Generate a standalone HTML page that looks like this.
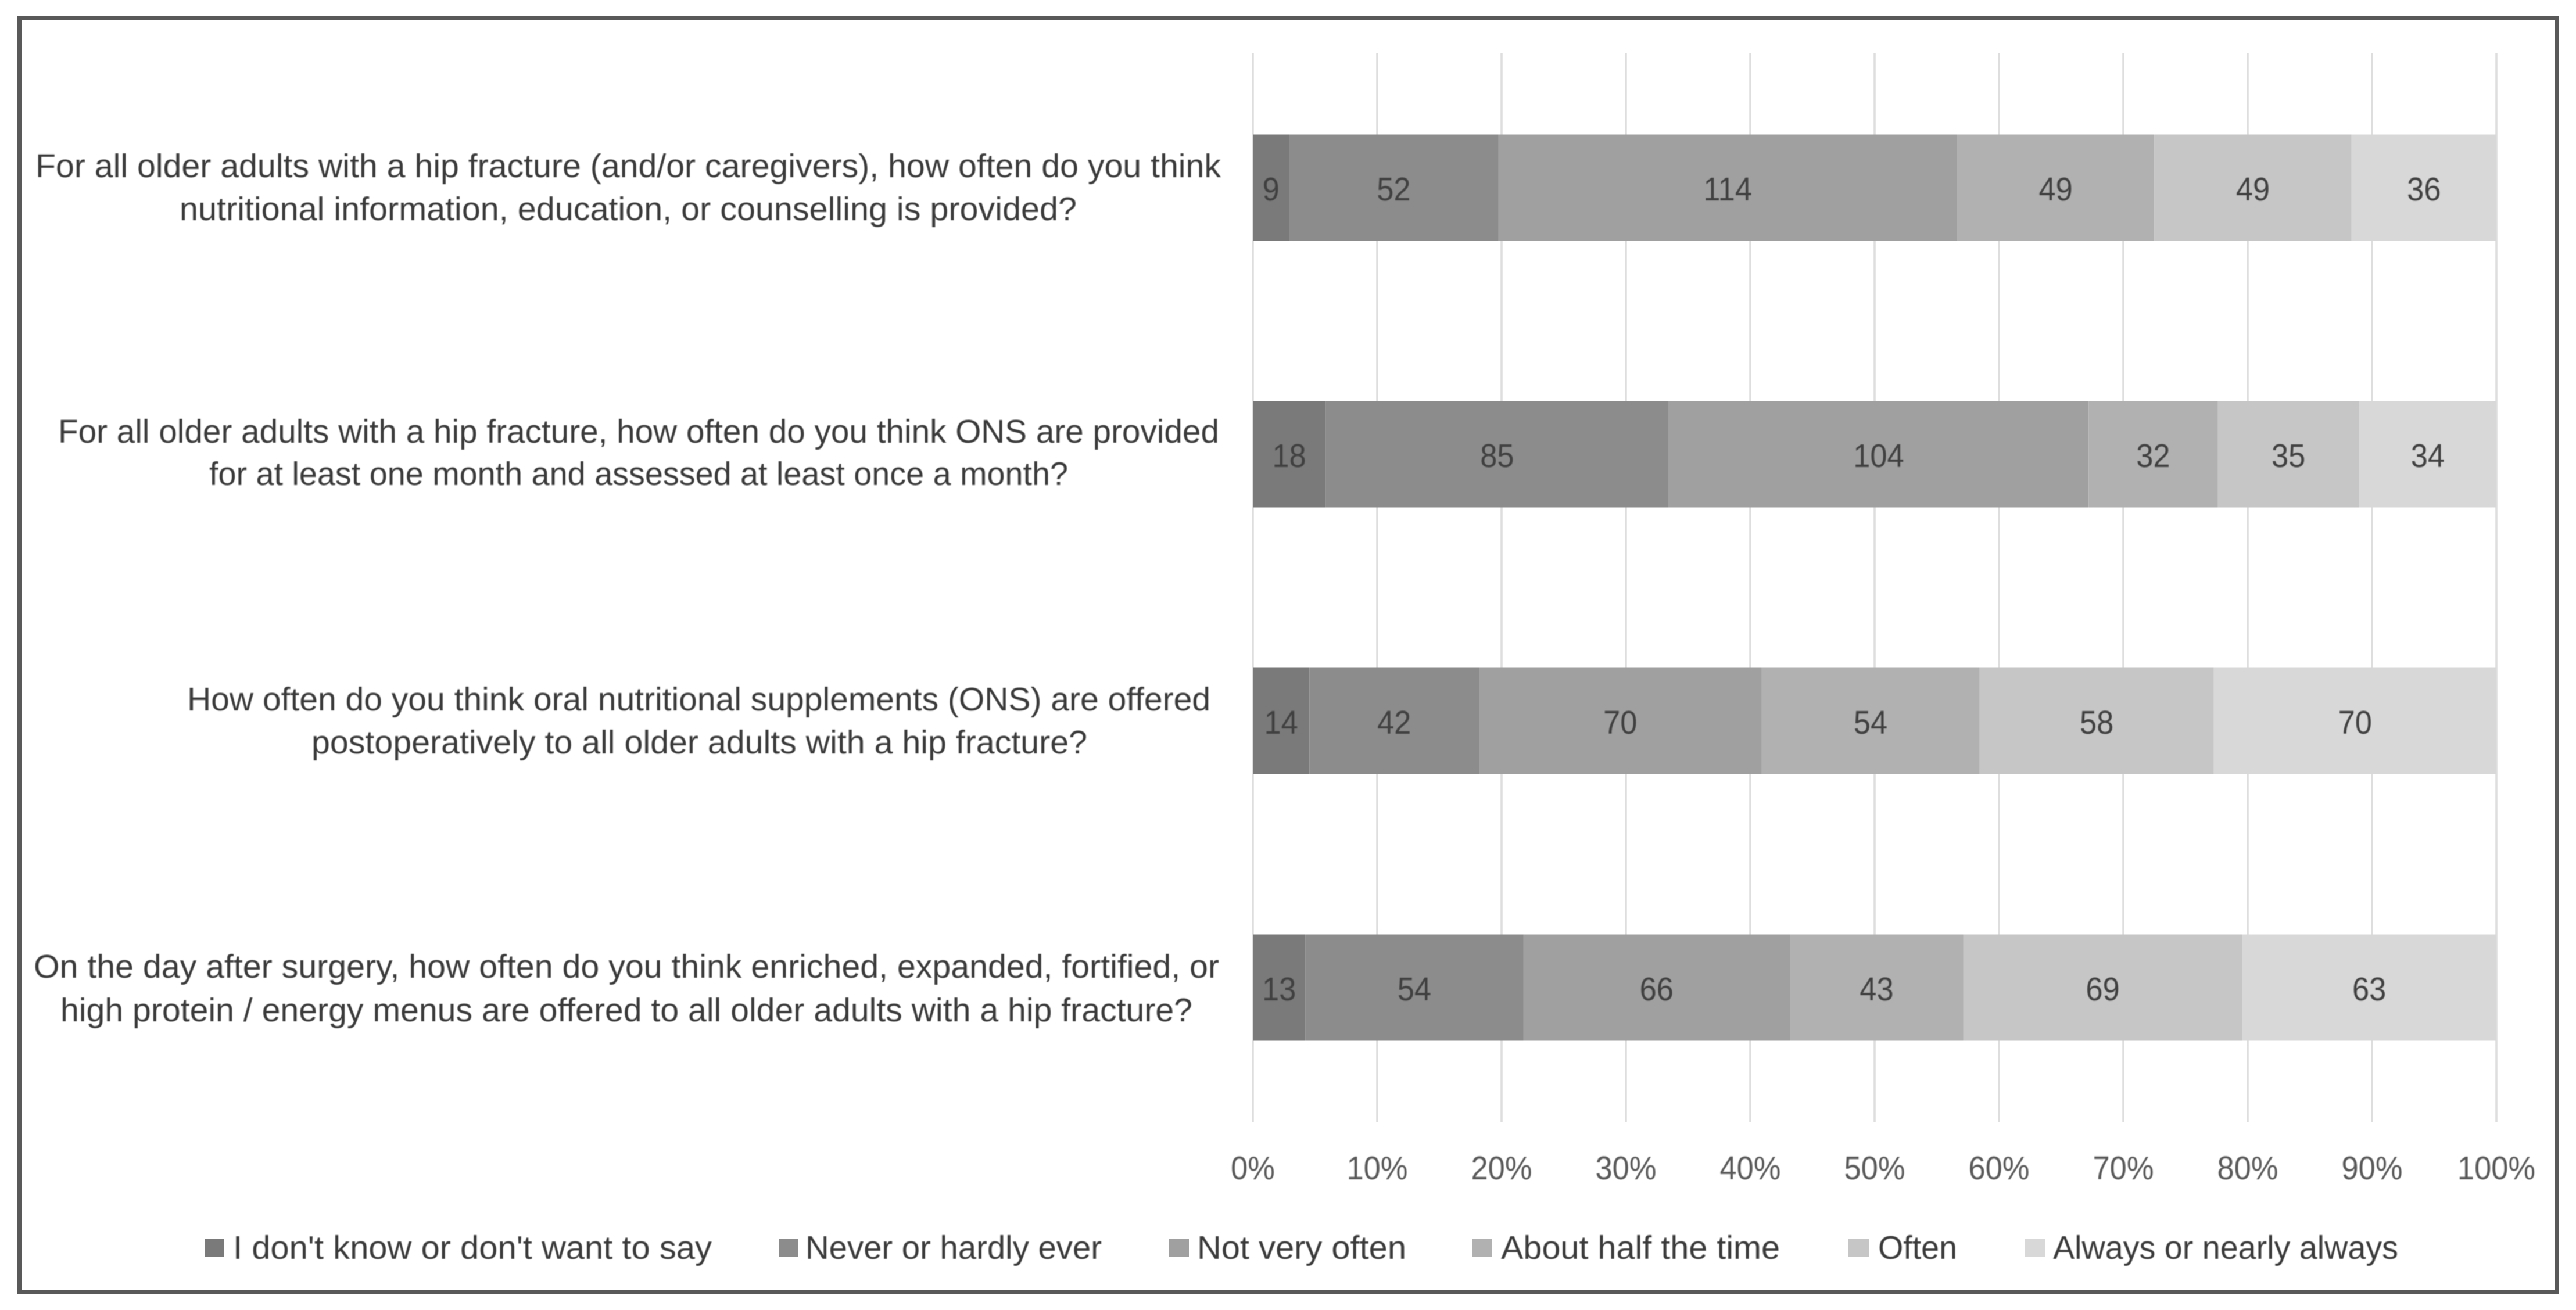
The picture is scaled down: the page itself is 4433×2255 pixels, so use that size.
<!DOCTYPE html>
<html lang="en">
<head>
<meta charset="utf-8">
<title>Hip fracture nutrition survey responses</title>
<style>
  html, body { margin: 0; padding: 0; background: #fff; }
  body { width: 4433px; height: 2255px; overflow: hidden; }
  svg { display: block; font-family: "Liberation Sans", sans-serif; }
  svg text { filter: blur(0.8px); }
</style>
</head>
<body>
<svg id="chart" xmlns="http://www.w3.org/2000/svg" width="4433" height="2255" viewBox="0 0 4433 2255">
  <rect x="0" y="0" width="4433" height="2255" fill="#ffffff"/>
  <g fill="#595959">
    <rect x="30" y="28" width="4374" height="7"/>
    <rect x="30" y="2220" width="4374" height="7"/>
    <rect x="30" y="28" width="7" height="2199"/>
    <rect x="4397" y="28" width="7" height="2199"/>
  </g>
  <g id="grid"></g>
  <g id="bars"></g>
  <g id="categories"></g>
  <g id="ticks"></g>
  <g id="legend"></g>
</svg>
<script>
const categoryLines = [
  ["For all older adults with a hip fracture (and/or caregivers), how often do you think", "nutritional information, education, or counselling is provided?"],
  ["For all older adults with a hip fracture, how often do you think ONS are provided", "for at least one month and assessed at least once a month?"],
  ["How often do you think oral nutritional supplements (ONS) are offered", "postoperatively to all older adults with a hip fracture?"],
  ["On the day after surgery, how often do you think enriched, expanded, fortified, or", "high protein / energy menus are offered to all older adults with a hip fracture?"]
];
const seriesNames = ["I don't know or don't want to say", "Never or hardly ever", "Not very often", "About half the time", "Often", "Always or nearly always"];
const dontKnow = [9, 18, 14, 13];
const never = [52, 85, 42, 54];
const notVeryOften = [114, 104, 70, 66];
const aboutHalf = [49, 32, 54, 43];
const often = [49, 35, 58, 69];
const always = [36, 34, 70, 63];
const tickValues = [0, 10, 20, 30, 40, 50, 60, 70, 80, 90, 100];

const seriesValues = [dontKnow, never, notVeryOften, aboutHalf, often, always];
const seriesColors = ["#7a7a7a", "#8c8c8c", "#a0a0a0", "#b1b1b1", "#c6c6c6", "#d8d8d8"];

const NS = "http://www.w3.org/2000/svg";
const plotLeft = 2156, plotRight = 4296, plotTop = 92, plotBottom = 1932;
const rowStart = 323, rowStep = 459, barHeight = 183;
const fontSize = 57;

/* Pixel layout of wrapped text lines, kept apart from the data. */
const categoryLineBoxes = [
  [{ x: 61, w: 2040, y: 305 }, { x: 309, w: 1544, y: 379 }],
  [{ x: 100, w: 1998, y: 762 }, { x: 360, w: 1478, y: 835 }],
  [{ x: 322, w: 1761, y: 1223 }, { x: 536, w: 1335, y: 1297 }],
  [{ x: 58, w: 2040, y: 1683 }, { x: 104, w: 1948, y: 1758 }]
];
const legendBoxes = [
  { sx: 352, sw: 34, tx: 401, tw: 824 },
  { sx: 1340, sw: 33, tx: 1386, tw: 510 },
  { sx: 2012, sw: 34, tx: 2060, tw: 360 },
  { sx: 2533, sw: 35, tx: 2583, tw: 480 },
  { sx: 3181, sw: 36, tx: 3232, tw: 136 },
  { sx: 3484, sw: 35, tx: 3533, tw: 594 }
];

function xScale(pct) { return plotLeft + (plotRight - plotLeft) * pct / 100; }
function rowCenter(i) { return rowStart + rowStep * i; }
function make(tag, attrs, parent, text) {
  const node = document.createElementNS(NS, tag);
  for (const k in attrs) node.setAttribute(k, attrs[k]);
  if (text !== undefined) node.textContent = text;
  parent.appendChild(node);
  return node;
}
function squeeze(node, ratio) {
  node.setAttribute("textLength", node.getComputedTextLength() * ratio);
  node.setAttribute("lengthAdjust", "spacingAndGlyphs");
}

const gridGroup = document.getElementById("grid");
const tickGroup = document.getElementById("ticks");
tickValues.forEach(function (t) {
  const line = make("rect", { x: xScale(t) - 1.75, y: plotTop, width: 3.5, height: plotBottom - plotTop, fill: "#dedede" }, gridGroup);
  
  
  const label = make("text", { x: xScale(t), y: 2030, "text-anchor": "middle", "font-size": fontSize, fill: "#595959" }, tickGroup, t + "%");
  
  
  squeeze(label, 0.92);
});

const barGroup = document.getElementById("bars");
categoryLines.forEach(function (lines, row) {
  let total = 0;
  seriesValues.forEach(function (values) { total += values[row]; });
  let cumulative = 0;
  seriesValues.forEach(function (values, s) {
    const value = values[row];
    const x0 = xScale(cumulative / total * 100);
    const x1 = xScale((cumulative + value) / total * 100);
    const seg = make("rect", { x: x0, y: rowCenter(row) - barHeight / 2, width: x1 - x0, height: barHeight, fill: seriesColors[s] }, barGroup);
    
    
    const valueLabel = make("text", { x: (x0 + x1) / 2, y: rowCenter(row) + 22, "text-anchor": "middle", "font-size": fontSize, fill: "#404040" }, barGroup, String(value));
    
    
    squeeze(valueLabel, 0.92);
    cumulative += value;
  });
});

const categoryGroup = document.getElementById("categories");
categoryLines.forEach(function (lines, row) {
  lines.forEach(function (line, i) {
    const box = categoryLineBoxes[row][i];
    const label = make("text", { x: box.x, y: box.y, textLength: box.w, lengthAdjust: "spacingAndGlyphs", "font-size": fontSize, fill: "#3a3a3a" }, categoryGroup, line);
    
    
  });
});

const legendGroup = document.getElementById("legend");
seriesNames.forEach(function (name, s) {
  const box = legendBoxes[s];
  const swatch = make("rect", { x: box.sx, y: 2132, width: box.sw, height: 31, fill: seriesColors[s] }, legendGroup);
  
  
  const label = make("text", { x: box.tx, y: 2167, textLength: box.tw, lengthAdjust: "spacingAndGlyphs", "font-size": fontSize, fill: "#3a3a3a" }, legendGroup, name);
  
  
});
</script>
</body>
</html>
